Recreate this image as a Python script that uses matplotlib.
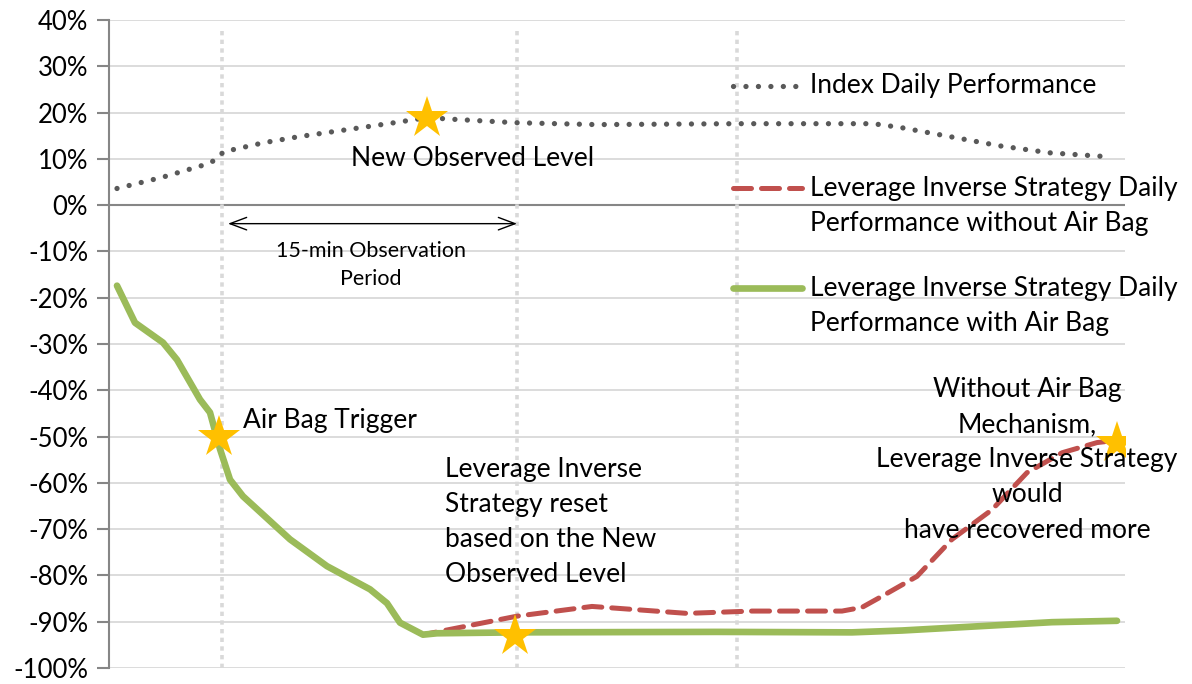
import matplotlib
matplotlib.use('Agg')
import matplotlib.pyplot as plt
from matplotlib.lines import Line2D

plt.rcParams['font.family'] = ['Lato', 'DejaVu Sans']

# ---- data (x = time index, y = % performance) ----
index_x = [0, 4.5, 9.2, 10.2, 10.6, 14.7, 18.2, 21.7, 25.2, 27.7, 31, 34, 40, 48, 62, 75.6, 78.3, 83.3, 88.3, 93.3, 99.5]
index_y = [3.6, 6.0, 9.0, 10.3, 11.5, 13.5, 14.8, 15.9, 17.0, 17.8, 18.9, 18.5, 17.8, 17.4, 17.6, 17.6, 16.8, 14.8, 12.8, 11.3, 10.4]

with_x = [0, 1.8, 4.6, 6.0, 8.3, 9.3, 10.3, 11.3, 12.6, 17.3, 21, 25.3, 27, 28.3, 30.6, 32, 40, 60, 73.5, 78.5, 93.5, 100]
with_y = [-17.4, -25.4, -29.7, -33.4, -42, -44.8, -52.7, -59.3, -62.9, -72.2, -78, -83, -86, -90.2, -92.8, -92.5, -92.3, -92.2, -92.3, -91.9, -90.1, -89.8]

without_x = [0, 1.8, 4.6, 6.0, 8.3, 9.3, 10.3, 11.3, 12.6, 17.3, 21, 25.3, 27, 28.3, 30.6, 32.5, 40, 47.5, 57, 63.5, 72.5, 74.5, 76.5, 80, 83.5, 87.5, 91, 94.5, 98, 100]
without_y = [-17.4, -25.4, -29.7, -33.4, -42, -44.8, -52.7, -59.3, -62.9, -72.2, -78, -83, -86, -90.2, -92.8, -92.0, -88.8, -86.7, -88.2, -87.7, -87.7, -86.9, -84.5, -80.2, -72.2, -65.8, -57.8, -53.5, -51.3, -50.8]

star_x = [31, 10.2, 39.8, 100]
star_y = [18.9, -50, -93, -51.3]

vline_x = [10.5, 40, 62]

yticks = list(range(-100, 41, 10))
ytick_labels = [f"{v}%" for v in yticks]

legend_labels = ["Index Daily Performance",
                 "Leverage Inverse Strategy Daily\nPerformance without Air Bag",
                 "Leverage Inverse Strategy Daily\nPerformance with Air Bag"]

W, H = 1192, 684
fig = plt.figure(figsize=(W / 100, H / 100), dpi=100)
ax = fig.add_axes([109 / W, 1 - 668 / H, (1125 - 109) / W, (668 - 20) / H])

ax.set_xlim(-0.8, 100.8)
ax.set_ylim(-100, 40)
ax.set_yticks(yticks)
ax.set_yticklabels(ytick_labels)
ax.set_xticks([])
ax.grid(axis='y', color='#D9D9D9', lw=1.3, zorder=0)
ax.set_axisbelow(True)
for s in ['top', 'right', 'bottom']:
    ax.spines[s].set_visible(False)
ax.spines['left'].set_color('#868686')
ax.spines['left'].set_linewidth(1.5)
ax.tick_params(axis='y', direction='out', length=9, width=1.5, color='#868686',
               labelsize=18.5, labelcolor='black', pad=6)
ax.axhline(0, color='#868686', lw=1.5, zorder=1)

for vx in vline_x:
    ax.axvline(vx, ymin=0, ymax=0.988, color='#D9D9D9', lw=2.6, ls=(0, (1.2, 1.2)), zorder=1)

# series
idx_style = dict(color='#595959', lw=3.8, ls=(0, (0.01, 2.35)), dash_capstyle='round')
red_style = dict(color='#C0504D', lw=3.6, ls=(0, (3.6, 2.0)), dash_capstyle='round')
grn_style = dict(color='#9BBB59', lw=4.8, solid_capstyle='round', solid_joinstyle='round')

ax.plot(index_x, index_y, zorder=3, **idx_style)
ax.plot(without_x, without_y, zorder=3, **red_style)
ax.plot(with_x, with_y, zorder=4, **grn_style)
ax.plot(star_x, star_y, ls='none', marker='*', ms=32, color='#FFC000',
        markeredgewidth=0, zorder=6)

# double-headed arrow
ax.annotate('', xy=(11.1, -4.0), xytext=(40, -4.0),
            arrowprops=dict(arrowstyle='<->,head_length=1.2,head_width=0.45',
                            color='black', lw=1.0, shrinkA=0, shrinkB=0), zorder=5)


def fx(px):
    return px / W


def fy(py):
    return 1 - py / H


fs = 19
ls_ = 1.5
fig.text(fx(473), fy(158), "New Observed Level", ha='center', va='center', fontsize=fs)
fig.text(fx(371), fy(265), "15-min Observation\nPeriod", ha='center', va='center',
         fontsize=15.5, linespacing=1.45)
fig.text(fx(243), fy(421), "Air Bag Trigger", ha='left', va='center', fontsize=fs)
fig.text(fx(445), fy(522), "Leverage Inverse\nStrategy reset\nbased on the New\nObserved Level",
         ha='left', va='center', fontsize=fs, linespacing=ls_)
fig.text(fx(1027), fy(460), "Without Air Bag\nMechanism,\nLeverage Inverse Strategy\nwould\nhave recovered more",
         ha='center', va='center', fontsize=fs, linespacing=ls_)

# legend (manual)
leg_styles = [idx_style, red_style, grn_style]
leg_y = [86, 188, 288]
for lab, st, py in zip(legend_labels, leg_styles, leg_y):
    fig.add_artist(Line2D([fx(733), fx(802)], [fy(py), fy(py)], transform=fig.transFigure, **st))
    n = lab.count('\n')
    fig.text(fx(810), fy(py + 18 * n), lab, ha='left', va='center', fontsize=fs, linespacing=ls_)

fig.savefig('out.png', dpi=100)
